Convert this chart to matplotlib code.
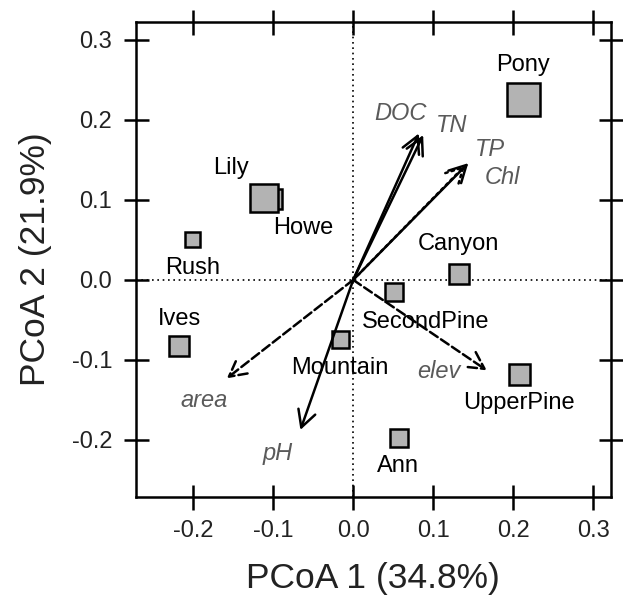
import matplotlib.pyplot as plt

plt.rcParams['font.family'] = ['Liberation Sans', 'DejaVu Sans']

# lake sites (PCoA scores)
sites = ['Howe', 'Lily', 'Pony', 'Rush', 'Canyon', 'SecondPine', 'Ives',
         'Mountain', 'UpperPine', 'Ann']
pc1 = [-0.102, -0.112, 0.212, -0.201, 0.1325, 0.051, -0.2175, -0.017, 0.2075, 0.057]
pc2 = [0.101, 0.103, 0.226, 0.051, 0.008, -0.015, -0.082, -0.074, -0.117, -0.198]
sym_px = [20, 27, 33, 15, 20, 18, 20, 17, 21, 18]  # symbol width in pixels
lab_x = [-0.062, -0.1525, 0.212, -0.201, 0.132, 0.091, -0.2175, -0.017, 0.207, 0.056]
lab_y = [0.065, 0.140, 0.269, 0.015, 0.045, -0.052, -0.049, -0.110, -0.154, -0.233]

# environmental vectors
env = ['DOC', 'TN', 'TP', 'Chl', 'area', 'elev', 'pH']
env1 = [0.082, 0.0875, 0.144, 0.140, -0.158, 0.167, -0.066]
env2 = [0.183, 0.181, 0.146, 0.143, -0.123, -0.113, -0.1875]
env_ls = ['-', '-', '-', ':', '--', '--', '-']
env_lab_x = [0.059, 0.123, 0.171, 0.186, -0.186, 0.107, -0.095]
env_lab_y = [0.208, 0.1925, 0.163, 0.128, -0.151, -0.115, -0.217]

fig = plt.figure(figsize=(6.23, 6.13), dpi=100)
ax = fig.add_axes([0.2178, 0.1897, 0.7624, 0.7739])

ax.axhline(0, color='black', ls=(0, (1.0, 2.2)), lw=1.2, zorder=1)
ax.axvline(0, color='black', ls=(0, (1.0, 2.2)), lw=1.2, zorder=1)

for x, y, p in zip(pc1, pc2, sym_px):
    ms = p / (fig.dpi / 72)
    ax.plot(x, y, marker='s', ms=ms, mfc='#b3b3b3', mec='black', mew=1.8,
            ls='none', zorder=3)

for s, x, y in zip(sites, lab_x, lab_y):
    ax.text(x, y, s, ha='center', va='center', fontsize=17, color='black', zorder=4)

for n, x, y, ls, tx, ty in zip(env, env1, env2, env_ls, env_lab_x, env_lab_y):
    ax.annotate('', xy=(x, y), xytext=(0, 0),
                arrowprops=dict(arrowstyle='->,head_length=0.6,head_width=0.32',
                                lw=1.8, ls=ls, color='black', shrinkA=0, shrinkB=0,
                                mutation_scale=20),
                zorder=5)
    ax.text(tx, ty, n, ha='center', va='center', fontsize=17, style='italic',
            color='#5a5a5a', zorder=4)

ax.set_xlim(-0.272, 0.322)
ax.set_ylim(-0.271, 0.322)
ticks = [-0.2, -0.1, 0.0, 0.1, 0.2, 0.3]
ax.set_xticks(ticks)
ax.set_yticks(ticks)
ax.set_xticklabels(['%.1f' % t for t in ticks])
ax.set_yticklabels(['%.1f' % t for t in ticks])
ax.tick_params(direction='inout', length=18, width=1.8, labelsize=17, pad=8,
               top=True, right=True, labelcolor='#222222')
for sp in ax.spines.values():
    sp.set_linewidth(1.8)

ax.set_xlabel('PCoA 1 (34.8%)', fontsize=25.5, labelpad=14, color='#222222')
ax.set_ylabel('PCoA 2 (21.9%)', fontsize=25.5, labelpad=14, color='#222222')

fig.savefig('out.png', dpi=100)
